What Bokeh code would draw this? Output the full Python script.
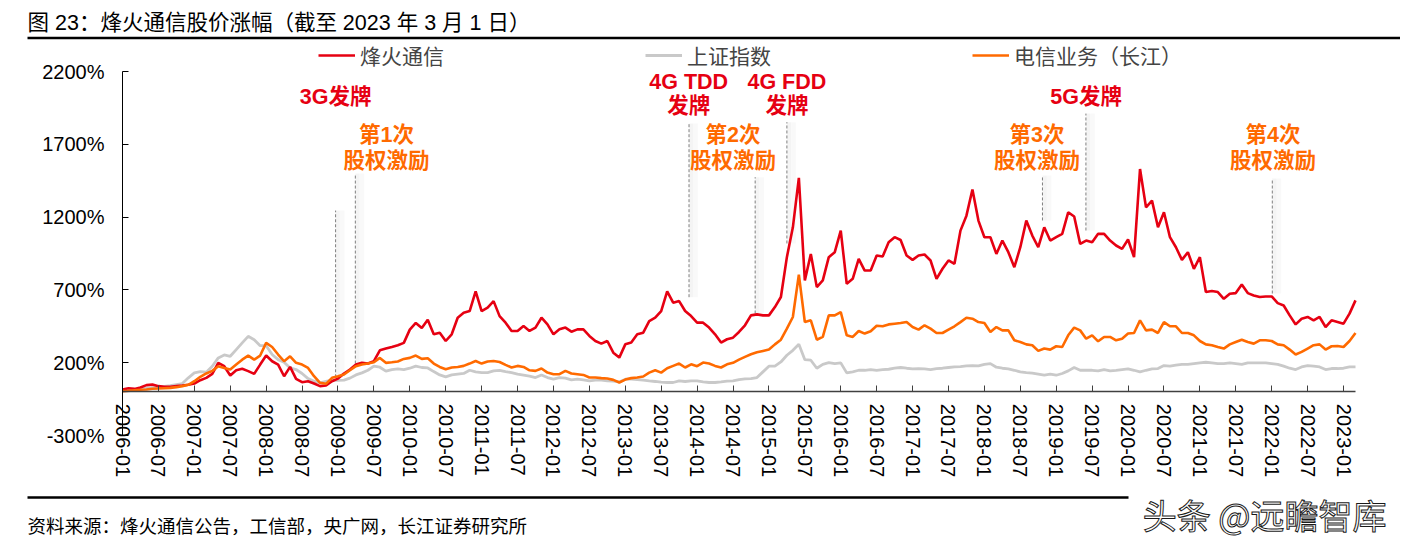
import numpy as np
from bokeh.plotting import figure
from bokeh.models import (Range1d, FixedTicker, Legend, LegendItem, ColumnDataSource, LabelSet,
                          LinearAxis)
from bokeh.embed import file_html
from bokeh.resources import INLINE
from bokeh.core.properties import value

# month index 0 = 2006-01 ... 206 = 2023-03 (monthly readings)
months = list(range(207))

fenghuo = [16, 25, 20, 30, 46, 50, 39, 34, 34, 39, 43, 48, 57, 80, 96, 123,
           199, 176, 112, 148, 158, 142, 123, 187, 249, 210, 187, 107, 171, 89, 66, 73,
           57, 39, 43, 73, 91, 126, 153, 187, 199, 194, 210, 285, 297, 308, 320, 336,
           427, 473, 438, 495,
           395, 406, 349, 395, 509, 543, 555, 690, 555, 578, 623, 520, 475, 418, 418, 452,
           418, 441, 509, 463, 395, 429, 441, 413, 429, 429, 384, 349, 331, 349, 269, 235,
           326, 338, 395, 406, 486, 509, 555, 690, 612, 623, 555, 520, 475, 475, 441, 395,
           338, 361, 372,
           411, 457, 525, 532, 525, 525, 582, 651, 925, 1130, 1470, 765, 947, 719, 765, 925,
           959, 1107, 742, 776, 913, 833, 833, 936, 929, 1027, 1062, 1043, 936, 906, 936, 943,
           902, 776, 845, 902, 879, 1107, 1210, 1390, 1176, 1062, 1062, 947, 1039, 959, 856, 993,
           1176, 1073, 993, 1130,
           1039, 1062, 1085, 1233, 1204, 1016, 1039, 1027, 1085, 1085, 1039, 1005, 982, 1046, 925, 1530,
           1267, 1313, 1130, 1233, 1062, 993, 906, 959, 845, 925, 685, 692, 685, 639, 674, 678,
           737, 678, 662, 651, 655, 655, 609, 593, 525, 463, 502, 514, 491, 514, 445, 491,
           480, 468, 537, 628]

szzs = [5, 7, 14, 18, 25, 30, 32, 37, 43, 50, 57, 96, 130, 139, 135, 176,
        233, 253, 244, 290, 336, 381, 358, 317, 317, 256, 221, 203, 164, 153, 126, 91,
        73, 62, 71, 80, 78, 80, 94, 116, 130, 148, 176, 169, 142, 153, 158, 153,
        162, 176, 167, 164,
        139, 116, 103, 116, 121, 126, 148, 137, 132, 132, 144, 148, 139, 132, 121, 114,
        107, 98, 116, 98, 87, 98, 94, 82, 87, 82, 75, 80, 80, 75, 73, 68,
        87, 87, 84, 80, 75, 71, 66, 64, 64, 75, 71, 75, 75, 68, 64, 64,
        68, 73, 75,
        84, 89, 91, 98, 137, 176, 176, 205, 251, 285, 326, 221, 217, 162, 189, 201,
        194, 199, 130, 137, 148, 148, 153, 148, 153, 155, 162, 167, 162, 158, 160, 158,
        153, 160, 162, 167, 171, 173, 178, 180, 178, 189, 194, 169, 162, 158, 148, 137,
        132, 128, 121, 114,
        121, 114, 126, 144, 167, 148, 148, 148, 144, 153, 144, 148, 153, 158, 148, 137,
        148, 158, 160, 180, 176, 183, 189, 189, 194, 199, 203, 199, 194, 194, 199, 194,
        189, 199, 199, 199, 199, 194, 189, 176, 162, 153, 171, 180, 176, 171, 153, 160,
        160, 162, 171, 171]

telecom = [5, 7, 11, 14, 16, 21, 23, 25, 27, 32, 39, 48, 73, 103, 126, 144,
           176, 164, 153, 187, 221, 249, 221, 249, 336, 308, 256, 210, 244, 199, 187, 164,
           107, 62, 55, 96, 107, 119, 148, 176, 187, 194, 203, 233, 199, 203, 208, 226,
           233, 249, 226, 231,
           194, 171, 155, 167, 171, 178, 194, 212, 194, 208, 212, 205, 185, 167, 178, 171,
           148, 144, 160, 132, 121, 121, 144, 126, 121, 116, 98, 98, 94, 91, 82, 64,
           84, 94, 98, 105, 132, 148, 132, 162, 178, 194, 167, 189, 176, 201, 194, 178,
           167, 189, 199,
           221, 240, 258, 272, 281, 290, 326, 358, 434, 514, 805, 479, 491, 358, 377, 525,
           525, 548, 388, 377, 418, 400, 416, 454, 450, 463, 468, 473, 479, 445, 427, 457,
           434, 404, 404, 427, 450, 479, 509, 502, 479, 473, 411, 445, 422, 422, 354, 342,
           326, 320, 281, 297,
           290, 313, 308, 388, 441, 422, 365, 388, 347, 377, 377, 354, 365, 400, 404, 491,
           422, 427, 404, 479, 450, 450, 404, 404, 388, 349, 326, 320, 308, 297, 326, 342,
           358, 342, 331, 354, 354, 349, 326, 320, 290, 256, 274, 297, 320, 326, 290, 313,
           315, 308, 349, 404]

x_tick_labels = ["2006-01", "2006-07", "2007-01", "2007-07", "2008-01", "2008-07",
                 "2009-01", "2009-07", "2010-01", "2010-07", "2011-01", "2011-07",
                 "2012-01", "2012-07", "2013-01", "2013-07", "2014-01", "2014-07",
                 "2015-01", "2015-07", "2016-01", "2016-07", "2017-01", "2017-07",
                 "2018-01", "2018-07", "2019-01", "2019-07", "2020-01", "2020-07",
                 "2021-01", "2021-07", "2022-01", "2022-07", "2023-01"]
x_ticks = list(range(0, 206, 6))
y_ticks = [-300, 200, 700, 1200, 1700, 2200]
y_tick_labels = ["-300%", "200%", "700%", "1200%", "1700%", "2200%"]

series_names = ["烽火通信", "上证指数", "电信业务（长江）"]
title_text = "图 23：烽火通信股价涨幅（截至 2023 年 3 月 1 日）"
source_text = "资料来源：烽火通信公告，工信部，央广网，长江证券研究所"
watermark_text = "头条 @远瞻智库"

# event markers (month index, dashed line top / bottom in % units)
event_x = [35.6, 38.9, 94.65, 105.7, 111.0, 153.7, 160.96, 192.1]
event_top = [1245, 1499, 1843, 1474, 1852, 1486, 1911, 1465]
event_bottom = [100, 194, 650, 538, 1019, 1177, 1108, 675]

ann_text = ["3G发牌", "第1次", "股权激励", "4G TDD", "发牌", "4G FDD", "发牌",
            "第2次", "股权激励", "5G发牌", "第3次", "股权激励", "第4次", "股权激励"]
ann_x = [35.6, 44.1, 44.1, 94.6, 94.6, 111.0, 111.0, 102.0, 102.0, 161.0, 152.8, 152.8, 192.2, 192.2]
ann_y = [2028, 1767, 1588, 2131, 1960, 2131, 1960, 1767, 1588, 2028, 1767, 1588, 1767, 1588]
RED = "#E60012"
ORANGE = "#FF6A00"
GRAY = "#C9C9C9"
ann_color = [RED, ORANGE, ORANGE, RED, RED, RED, RED, ORANGE, ORANGE, RED, ORANGE, ORANGE, ORANGE, ORANGE]

W, H = 1400, 543
CJK = "Noto Sans CJK SC"
LAT = "Liberation Sans, Noto Sans CJK SC"

# plot area on the canvas (pixels): month 0..206 -> x 122..1355, value 2200..-300 -> y 71..435
PL, PR, PT, PB = 122, 1355, 71, 435
KX = (PR - PL) / 206.0
KY = (PB - PT) / 2500.0


def px(xp):
    return (xp - PL) / KX


def py(yp):
    return 2200 - (yp - PT) / KY


p = figure(width=W, height=H, x_range=Range1d(px(0), px(W)), y_range=Range1d(py(H), py(0)),
           x_axis_type=None, y_axis_type=None, min_border=0,
           toolbar_location=None, output_backend="svg")
p.outline_line_color = None
p.grid.visible = False
p.background_fill_color = "white"

src = ColumnDataSource(dict(m=months, fh=fenghuo, sz=szzs, tc=telecom))

# event dashed lines with faint shadow
p.quad(left=event_x, right=[e + 0.7 for e in event_x], bottom=event_bottom, top=event_top,
       fill_color="#000000", fill_alpha=0.045, line_color=None)
p.quad(left=[e + 0.7 for e in event_x], right=[e + 1.5 for e in event_x], bottom=event_bottom,
       top=event_top, fill_color="#000000", fill_alpha=0.022, line_color=None)
p.segment(x0=event_x, x1=event_x, y0=event_bottom, y1=event_top,
          line_color="#7F7F7F", line_width=1, line_dash="3 2")

r_gray = p.line("m", "sz", source=src, line_color=GRAY, line_width=2.8)
r_red = p.line("m", "fh", source=src, line_color=RED, line_width=2.6)
r_orange = p.line("m", "tc", source=src, line_color=ORANGE, line_width=2.6)

ann_src = ColumnDataSource(dict(x=ann_x, y=ann_y, t=ann_text, c=ann_color))
p.add_layout(LabelSet(x="x", y="y", text="t", source=ann_src, text_color="c",
                      text_font=value(LAT), text_font_size=value("21.5px"),
                      text_font_style="bold", text_align="center", text_baseline="middle"))

# x axis drawn at the zero line
xa = LinearAxis(fixed_location=0, bounds=(0, 206), ticker=FixedTicker(ticks=x_ticks),
                major_label_overrides={t: l for t, l in zip(x_ticks, x_tick_labels)},
                major_label_orientation="vertical", major_label_text_font=LAT,
                major_label_text_font_size="20px", major_label_text_color="black",
                major_label_standoff=12, major_tick_in=6, major_tick_out=0,
                minor_tick_line_color=None, axis_line_color="#404040",
                major_tick_line_color="#404040", axis_line_width=1.5)
p.add_layout(xa, "below")

ya = LinearAxis(fixed_location=0, bounds=(-300, 2200), ticker=FixedTicker(ticks=y_ticks),
                major_label_overrides={t: l for t, l in zip(y_ticks, y_tick_labels)},
                major_label_text_font=LAT, major_label_text_font_size="20px",
                major_label_text_color="black", major_label_standoff=18,
                major_tick_in=6, major_tick_out=0, minor_tick_line_color=None,
                axis_line_color="black", major_tick_line_color="black")
p.add_layout(ya, "left")

legend = Legend(items=[LegendItem(label=series_names[0], renderers=[r_red]),
                       LegendItem(label=series_names[1], renderers=[r_gray]),
                       LegendItem(label=series_names[2], renderers=[r_orange])],
                orientation="horizontal", location=(318, 473), padding=0, margin=0,
                spacing=201, glyph_width=37, glyph_height=20, label_standoff=5,
                label_text_font=CJK, label_text_font_size="21px",
                border_line_color=None, background_fill_alpha=0)
p.add_layout(legend)

# header / footer
p.text(x=[px(27)], y=[py(22)], text=[title_text], text_font=value(LAT), text_font_size="21.5px",
       text_color="black", text_align="left", text_baseline="middle")
p.line(x=[px(27), px(W)], y=[py(37.5), py(37.5)], line_color="black", line_width=2.5)
p.line(x=[px(27), px(1128)], y=[py(497), py(497)], line_color="black", line_width=2.5)
p.text(x=[px(27)], y=[py(524)], text=[source_text], text_font=value(CJK),
       text_font_size="18.5px", text_color="black", text_align="left", text_baseline="middle")
p.text(x=[px(1386)], y=[py(514)], text=[watermark_text], text_font=value(CJK),
       text_font_size="34px", text_color="white", text_outline_color="#1a1a1a",
       text_align="right", text_baseline="middle")

open("out.html", "w").write(file_html(p, INLINE))
